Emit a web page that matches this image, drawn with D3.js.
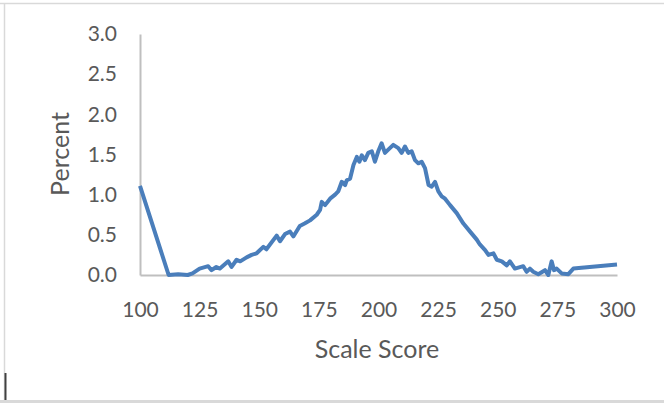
<!DOCTYPE html>
<html>
<head>
<meta charset="utf-8">
<script src="https://cdn.jsdelivr.net/npm/d3@7"></script>
<style>
  html, body { margin: 0; padding: 0; background: #fff; }
  svg { display: block; }
  text { font-family: Lato, "Open Sans", sans-serif; fill: #595959; }
</style>
</head>
<body>
<svg id="chart" width="664" height="403"></svg>
<script>
const scores = [100,112,116,120,122,125,128.6,130,132,133.5,137,138.4,140.5,142,144.7,146.8,148.9,151.7,153,157.3,158.7,160.8,162.9,164.3,167,169,171.3,174.1,175.5,176.2,177.6,179.7,181.8,183.1,184.6,186,186.7,188.1,189.5,190.9,192,193,194.3,195.7,197.2,198.5,199.9,201.3,202.7,204.1,206.2,208.3,209.7,211.1,212.5,213.9,215.3,216.7,218.1,219.5,221,222.3,223.7,225.1,226.5,227.9,230,232.8,235.6,238.4,241.2,242.5,244.7,246.1,248.2,249.6,251.7,253.8,255.1,257.2,260.7,262.1,263.5,264.9,267,269.8,271.2,272.6,273.6,274.7,276.8,279.6,281.7,300];
const percents = [1.11,0.00,0.01,0.00,0.02,0.08,0.11,0.06,0.10,0.08,0.17,0.10,0.19,0.17,0.22,0.25,0.27,0.35,0.32,0.49,0.42,0.51,0.54,0.48,0.61,0.64,0.68,0.75,0.81,0.91,0.87,0.95,1.00,1.04,1.16,1.12,1.18,1.20,1.37,1.47,1.41,1.49,1.43,1.52,1.54,1.41,1.54,1.64,1.52,1.56,1.62,1.58,1.52,1.60,1.52,1.54,1.43,1.39,1.41,1.33,1.12,1.10,1.16,1.04,0.98,0.95,0.87,0.77,0.64,0.54,0.44,0.38,0.31,0.25,0.27,0.19,0.17,0.12,0.17,0.08,0.11,0.04,0.08,0.04,0.01,0.06,0.00,0.17,0.06,0.08,0.02,0.01,0.08,0.13];
const xTicks = [100,125,150,175,200,225,250,275,300];
const yTicks = [0,0.5,1.0,1.5,2.0,2.5,3.0];
const xTitle = "Scale Score";
const yTitle = "Percent";

const svg = d3.select("#chart");

// outer frame
svg.append("line").attr("x1",0).attr("x2",664).attr("y1",3.5).attr("y2",3.5).attr("stroke","#d9d9d9").attr("stroke-width",1.5);
svg.append("line").attr("x1",4.5).attr("x2",4.5).attr("y1",3).attr("y2",403).attr("stroke","#d9d9d9").attr("stroke-width",1.5);
svg.append("line").attr("x1",0).attr("x2",664).attr("y1",401.5).attr("y2",401.5).attr("stroke","#d9d9d9").attr("stroke-width",3);
svg.append("line").attr("x1",5.5).attr("x2",5.5).attr("y1",373).attr("y2",400).attr("stroke","#404040").attr("stroke-width",2);

const x = d3.scaleLinear().domain([100,300]).range([140,617]);
const y = d3.scaleLinear().domain([0,3]).range([275,34]);

const tickFont = 21;
const xAxis = svg.append("g").attr("transform","translate(0,275)")
  .call(d3.axisBottom(x).tickValues(xTicks).tickSize(0).tickPadding(0).tickFormat(d3.format("d")));
xAxis.select(".domain").attr("stroke","#bfbfbf").attr("stroke-width",2);
xAxis.selectAll("text").attr("font-size",tickFont).attr("dy","0").attr("y",42)
  .style("font-family","Lato, 'Open Sans', sans-serif").attr("fill","#595959");

const yAxis = svg.append("g").attr("transform","translate(140,0)")
  .call(d3.axisLeft(y).tickValues(yTicks).tickSize(0).tickPadding(23).tickFormat(d3.format(".1f")));
yAxis.select(".domain").attr("stroke","#bfbfbf").attr("stroke-width",2);
yAxis.selectAll("text").attr("font-size",tickFont)
  .style("font-family","Lato, 'Open Sans', sans-serif").attr("fill","#595959");

const line = d3.line().x((d,i)=>x(scores[i])).y(d=>y(d));
svg.append("path").datum(percents)
  .attr("d", line)
  .attr("fill","none")
  .attr("stroke","#4a7ebb")
  .attr("stroke-width",4)
  .attr("stroke-linejoin","round");

svg.append("text").attr("x",377).attr("y",358).attr("text-anchor","middle").attr("font-size",25).text(xTitle);
svg.append("text").attr("transform","translate(69,154) rotate(-90)").attr("text-anchor","middle").attr("font-size",25).text(yTitle);
</script>
</body>
</html>
